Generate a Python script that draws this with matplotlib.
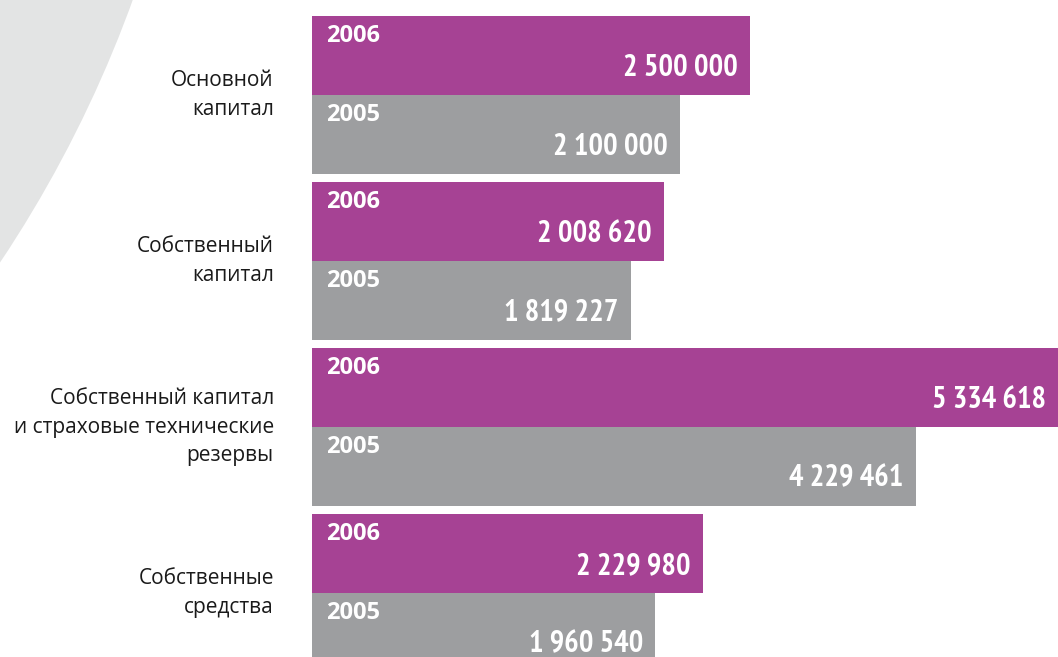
import matplotlib
matplotlib.use("Agg")
import matplotlib.pyplot as plt
from matplotlib.patches import Ellipse

# данные
categories = ["Основной\nкапитал",
              "Собственный\nкапитал",
              "Собственный капитал\nи страховые технические\nрезервы",
              "Собственные\nсредства"]
values_2006 = [2500000, 2008620, 5334618, 2229980]
values_2005 = [2100000, 1819227, 4229461, 1960540]
years = ["2006", "2005"]

# третья группа в оригинале нарисована в сжатом масштабе
shrink = [1, 1, 0.815, 1]

purple = "#a64294"
grey = "#9d9ea0"
W, H = 1058, 657

fig = plt.figure(figsize=(W / 100, H / 100), dpi=100)
fig.patch.set_facecolor("white")

# светло-серая дуга слева
fig.patches.append(Ellipse((-1018 / W, 1074 / H), 2 * 1224 / W, 2 * 1224 / H,
                           transform=fig.transFigure, facecolor="#e3e4e4",
                           edgecolor="none", zorder=0))

ax = fig.add_axes([312 / W, 0, 1 - 312 / W, 1])
ax.set_facecolor("none")
px_per_unit = 175.2e-6
ax.set_xlim(0, (W - 312) / px_per_unit)
ax.set_ylim((H - 95) / 166, -95 / 166)
ax.axis("off")

h = 0.475
xmax = ax.get_xlim()[1]
value_font = ["PT Sans Narrow", "IBM Plex Sans Condensed", "DejaVu Sans"]
label_font = ["Open Sans", "DejaVu Sans"]

for i, cat in enumerate(categories):
    w6 = values_2006[i] * shrink[i]
    w5 = values_2005[i] * shrink[i]
    ax.barh(i - h, w6, height=h, align="edge", color=purple, linewidth=0)
    ax.barh(i, w5, height=h, align="edge", color=grey, linewidth=0)

    for top, w, v, yr in [(i - h, w6, values_2006[i], years[0]),
                          (i, w5, values_2005[i], years[1])]:
        ax.annotate(yr, xy=(0, top + 0.12), xytext=(10, 0),
                    textcoords="offset points", ha="left", va="center",
                    color="white", fontsize=17, fontweight="bold",
                    family=label_font)
        lab = f"{v:,}".replace(",", " ")
        ax.annotate(lab, xy=(min(w, xmax), top + 0.36), xytext=(-9, 0),
                    textcoords="offset points", ha="right", va="baseline",
                    color="white", fontsize=22, fontweight="bold",
                    family=value_font)

    ax.annotate(cat, xy=(0, i), xytext=(-27.5, 0), textcoords="offset points",
                ha="right", va="center", multialignment="right",
                fontsize=15, color="#1a1a1a", family=label_font,
                linespacing=1.5, annotation_clip=False)

fig.savefig("out.png", dpi=100)
